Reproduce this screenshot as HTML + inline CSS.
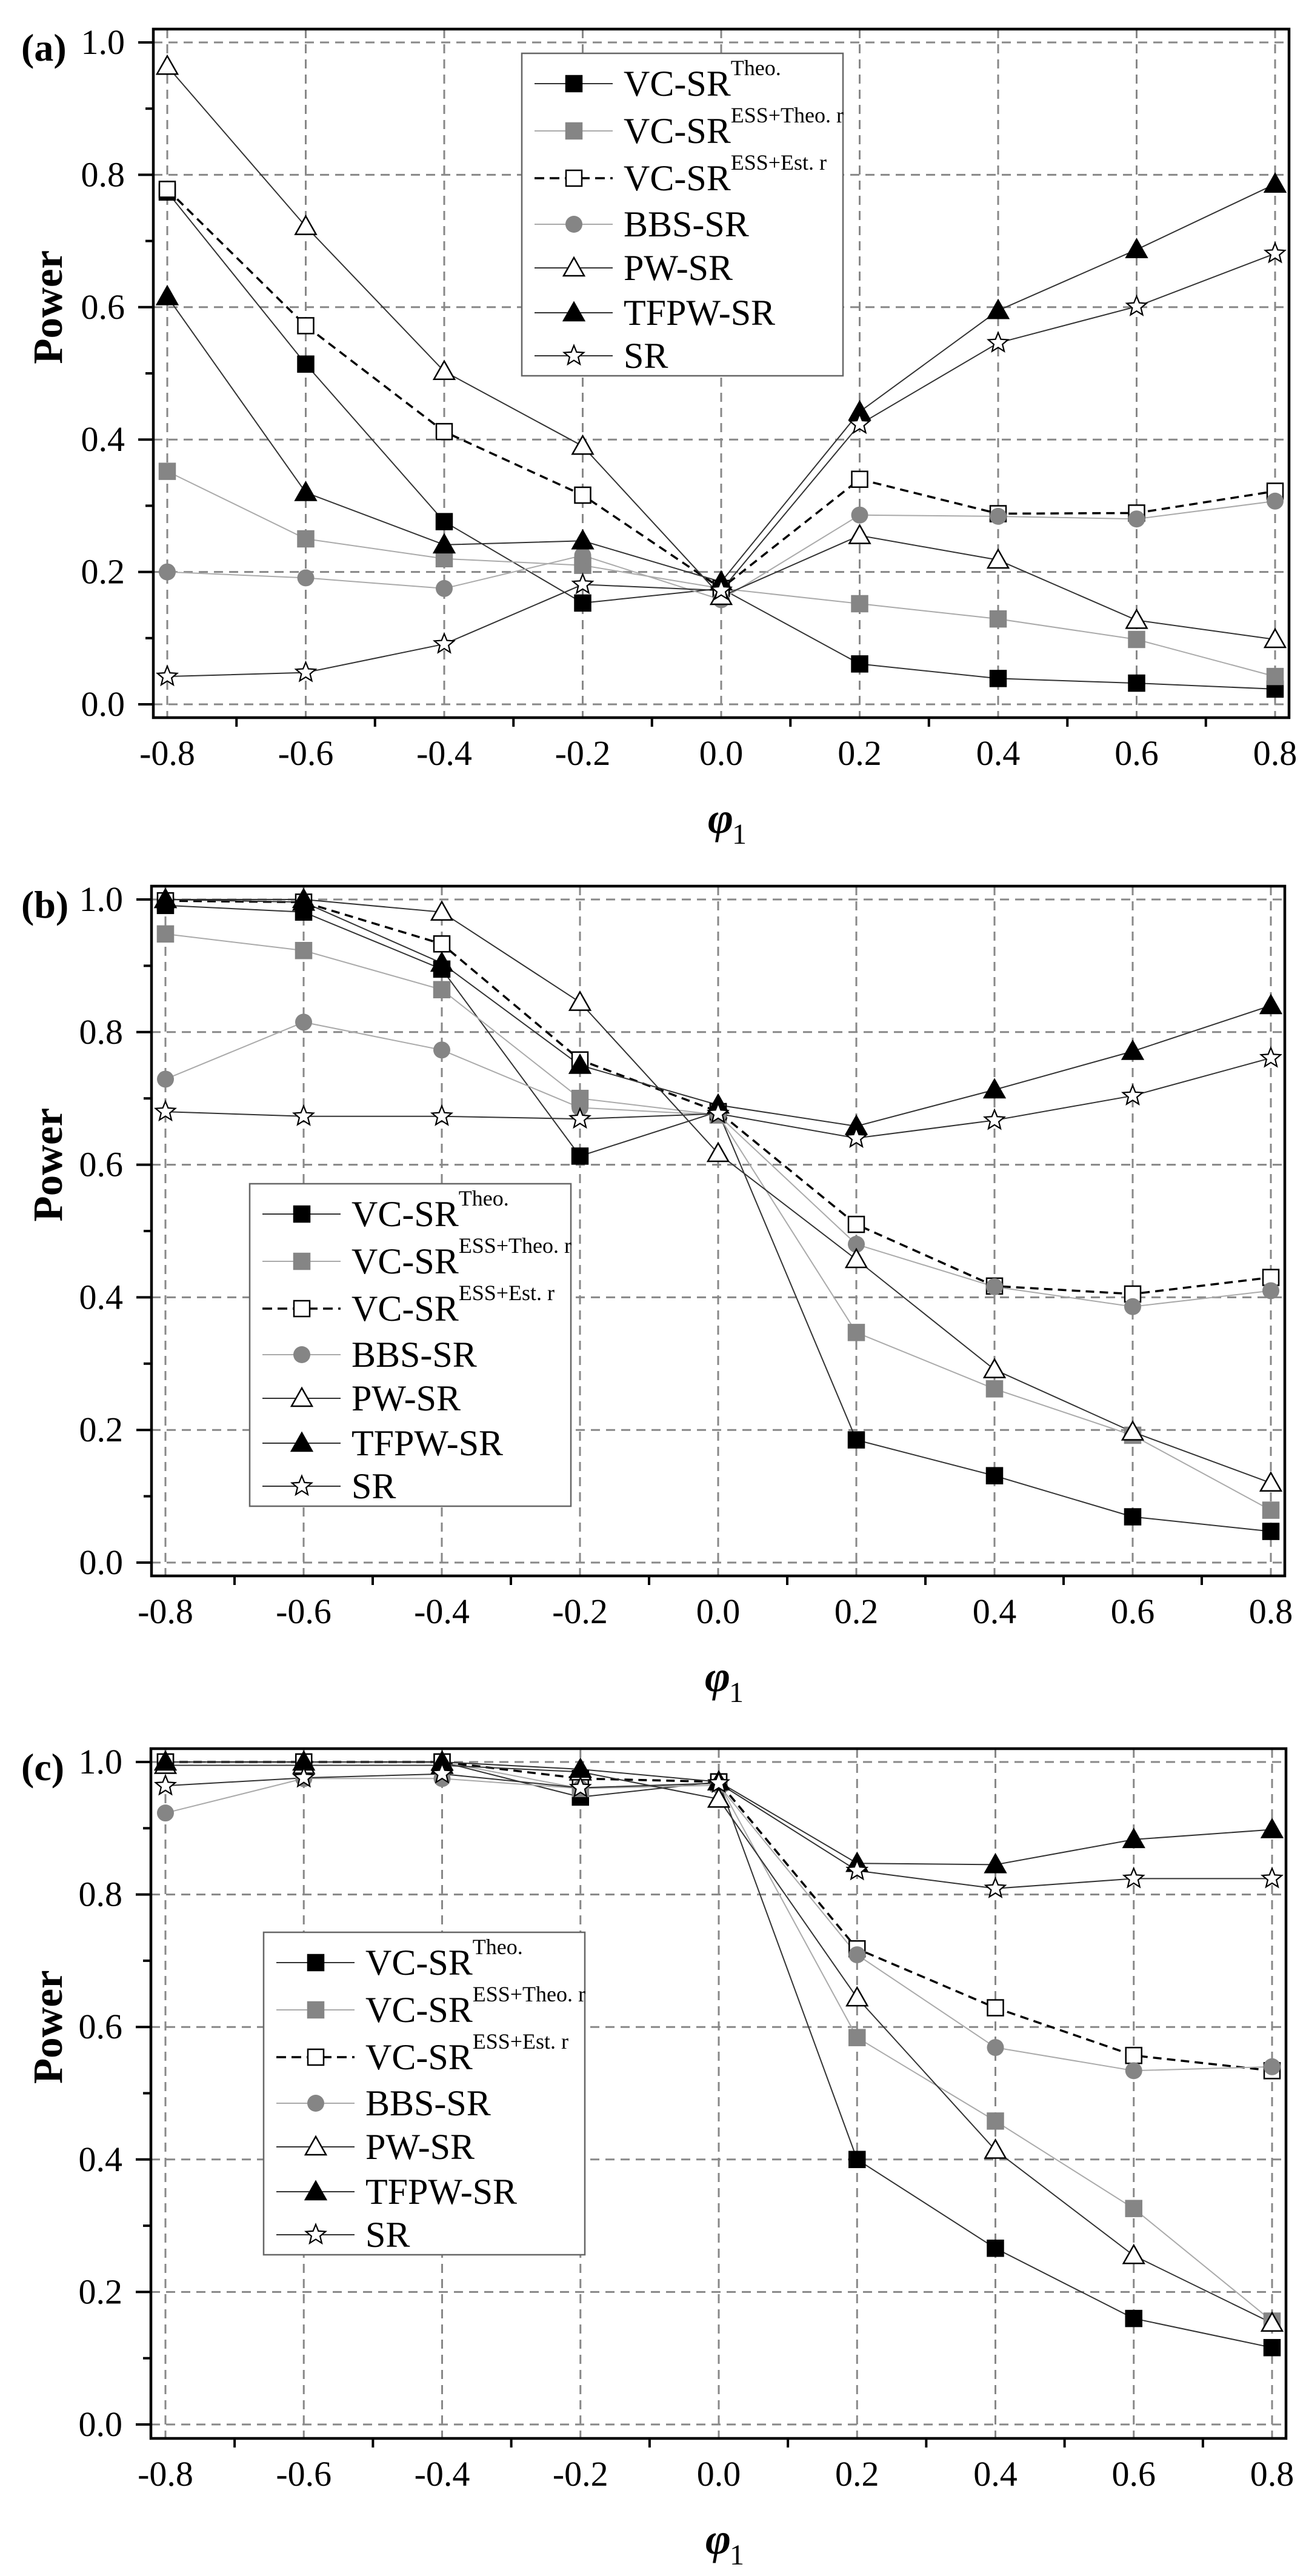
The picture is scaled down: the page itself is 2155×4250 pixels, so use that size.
<!DOCTYPE html>
<html><head><meta charset="utf-8"><style>
html,body{margin:0;padding:0;background:#fff}
svg{display:block}
svg text, svg tspan{font-family:"Liberation Serif","Times New Roman",Times,serif}
</style></head><body>
<svg id="fig" font-family="'Liberation Serif','Times New Roman',serif" width="2155" height="4250" viewBox="0 0 2155 4250" xmlns="http://www.w3.org/2000/svg"></svg>
<script>
const categories = [-0.8,-0.6,-0.4,-0.2,0.0,0.2,0.4,0.6,0.8];
const xTickLabels = ["-0.8","-0.6","-0.4","-0.2","0.0","0.2","0.4","0.6","0.8"];
const yTickLabels = ["0.0","0.2","0.4","0.6","0.8","1.0"];
const seriesNames = ["VC-SR Theo","VC-SR ESS+Theo r","VC-SR ESS+Est r","BBS-SR","PW-SR","TFPW-SR","SR"];

// Panel (a)
const aVcTheo   = [0.774,0.514,0.276,0.153,0.175,0.061,0.039,0.032,0.023];
const aVcEssTh  = [0.352,0.250,0.220,0.210,0.175,0.152,0.129,0.098,0.042];
const aVcEssEst = [0.778,0.572,0.412,0.316,0.175,0.340,0.288,0.289,0.322];
const aBbs      = [0.200,0.191,0.175,0.225,0.158,0.286,0.284,0.280,0.307];
const aPw       = [0.964,0.722,0.503,0.390,0.163,0.255,0.218,0.127,0.098];
const aTfpw     = [0.616,0.320,0.241,0.247,0.185,0.442,0.595,0.687,0.786];
const aSr       = [0.042,0.048,0.091,0.181,0.172,0.423,0.546,0.601,0.681];
// Panel (b)
const bVcTheo   = [0.991,0.981,0.895,0.613,0.680,0.185,0.131,0.069,0.047];
const bVcEssTh  = [0.948,0.923,0.864,0.700,0.675,0.347,0.262,0.192,0.079];
const bVcEssEst = [0.998,0.996,0.933,0.758,0.680,0.510,0.417,0.405,0.430];
const bBbs      = [0.729,0.815,0.773,0.686,0.675,0.480,0.416,0.386,0.410];
const bPw       = [1.000,1.000,0.981,0.845,0.617,0.457,0.291,0.197,0.120];
const bTfpw     = [1.000,0.996,0.904,0.750,0.690,0.658,0.713,0.771,0.840];
const bSr       = [0.680,0.673,0.673,0.669,0.677,0.640,0.667,0.704,0.761];
// Panel (c)
const cVcTheo   = [1.000,1.000,1.000,0.947,0.970,0.400,0.266,0.160,0.116];
const cVcEssTh  = [1.000,1.000,1.000,0.960,0.968,0.584,0.458,0.326,0.156];
const cVcEssEst = [1.000,1.000,1.000,0.975,0.970,0.718,0.629,0.557,0.534];
const cBbs      = [0.923,0.975,0.975,0.960,0.965,0.709,0.569,0.534,0.540];
const cPw       = [0.995,0.995,0.995,0.985,0.944,0.644,0.414,0.255,0.153];
const cTfpw     = [1.000,1.000,1.000,0.989,0.970,0.847,0.845,0.883,0.898];
const cSr       = [0.964,0.976,0.982,0.961,0.968,0.836,0.809,0.824,0.824];

const NS="http://www.w3.org/2000/svg";
const svg=document.getElementById('fig');
const FF="'Liberation Serif','Times New Roman',serif";
function mk(tag,attrs,parent){const e=document.createElementNS(NS,tag);for(const k in attrs)e.setAttribute(k,attrs[k]);if(tag==='text')e.setAttribute('font-family',FF);(parent||svg).appendChild(e);return e;}

const styles=[
 {line:"#333",w:2,dash:null,marker:"square",fill:"#000",stroke:"#000"},
 {line:"#aaa",w:2,dash:null,marker:"square",fill:"#858585",stroke:"#858585"},
 {line:"#000",w:3.5,dash:"14 9",marker:"square",fill:"#fff",stroke:"#000"},
 {line:"#aaa",w:2,dash:null,marker:"circle",fill:"#858585",stroke:"#858585"},
 {line:"#333",w:2,dash:null,marker:"tri",fill:"#fff",stroke:"#000"},
 {line:"#333",w:2,dash:null,marker:"tri",fill:"#000",stroke:"#000"},
 {line:"#333",w:2,dash:null,marker:"star",fill:"#fff",stroke:"#000"}
];

function drawMarker(g,type,x,y,st,name){
  let e;
  if(type==="square"){e=mk('rect',{x:x-13,y:y-13,width:26,height:26,fill:st.fill,stroke:st.stroke,'stroke-width':2.5},g);}
  else if(type==="circle"){e=mk('circle',{cx:x,cy:y,r:14,fill:st.fill},g);}
  else if(type==="tri"){e=mk('polygon',{points:`${x},${y-17} ${x+17},${y+13} ${x-17},${y+13}`,fill:st.fill,stroke:st.stroke,'stroke-width':2.5},g);}
  else {let p=[];for(let i=0;i<10;i++){const r=i%2?7.5:17;const a=-Math.PI/2+i*Math.PI/5;p.push((x+r*Math.cos(a)).toFixed(1)+","+(y+r*Math.sin(a)).toFixed(1));}
    e=mk('polygon',{points:p.join(' '),fill:st.fill,stroke:st.stroke,'stroke-width':2.2},g);}
  
  
}

function panel(id,label,data,P){
  const g=mk('g',{});
  
  
  const xs=v=>P.x0+(v-categories[0])/(categories[categories.length-1]-categories[0])*(P.x1-P.x0);
  const ys=v=>P.y0-(v)*(P.y0-P.y1);
  const grid=mk('g',{stroke:"#888",'stroke-width':3,'stroke-dasharray':"15 10",fill:"none"},g);
  
  
  categories.forEach(c=>mk('line',{x1:xs(c),x2:xs(c),y1:P.T,y2:P.B},grid));
  for(let i=0;i<yTickLabels.length;i++){const v=parseFloat(yTickLabels[i]);mk('line',{x1:P.L,x2:P.R,y1:ys(v),y2:ys(v)},grid);}
  data.forEach((arr,si)=>{
    const st=styles[si];
    const pts=arr.map((v,i)=>xs(categories[i]).toFixed(1)+","+ys(v).toFixed(1)).join(' ');
    const pl=mk('polyline',{points:pts,fill:'none',stroke:st.line,'stroke-width':st.w},g);
    if(st.dash)pl.setAttribute('stroke-dasharray',st.dash);
    
    
  });
  data.forEach((arr,si)=>{
    arr.forEach((v,i)=>drawMarker(g,styles[si].marker,xs(categories[i]),ys(v),styles[si],'point-'+si+'-'+i));
  });
  const fr=mk('rect',{x:P.L,y:P.T,width:P.R-P.L,height:P.B-P.T,fill:'none',stroke:'#000','stroke-width':4.5},g);
  
  
  for(let k=0;k<=10;k++){const v=k/10;const len=k%2?13:25;mk('line',{x1:P.L-len,x2:P.L,y1:ys(v),y2:ys(v),stroke:'#000','stroke-width':4},g);}
  yTickLabels.forEach(t=>{const e=mk('text',{x:P.L-47,y:ys(parseFloat(t))+19,'text-anchor':'end','font-size':58},g);e.textContent=t;
    
    });
  for(let i=0;i<categories.length-1;i++){const xm=(xs(categories[i])+xs(categories[i+1]))/2;mk('line',{x1:xm,x2:xm,y1:P.B,y2:P.B+15,stroke:'#000','stroke-width':4},g);}
  categories.forEach((c,i)=>{const e=mk('text',{x:xs(c),y:P.B+78,'text-anchor':'middle','font-size':58},g);e.textContent=xTickLabels[i];
    
    });
  const yt=mk('text',{x:0,y:0,'font-size':69,'font-weight':'bold','text-anchor':'middle',transform:`translate(102,${ys(0.6)}) rotate(-90)`},g);
  yt.textContent='Power';
  
  
  const xt=mk('text',{x:(xs(0))-22,y:P.B+190,'font-size':72,'font-weight':'bold','font-style':'italic'},g);
  xt.textContent='φ';
  
  
  const xs1=mk('text',{x:(xs(0))+18,y:P.B+208,'font-size':48},g);xs1.textContent='1';
  
  
  const pl=mk('text',{x:35,y:ys(1)+30,'font-size':64,'font-weight':'bold'},g);pl.textContent=label;
  
  
  const lg=mk('g',{},g);
  
  
  mk('rect',{x:P.lx,y:P.ly,width:530,height:532,fill:'#fff',stroke:'#666','stroke-width':2.5},lg);
  const offs=[50,128,206,282,354,428,499];
  const labels=[["VC-SR","Theo."],["VC-SR","ESS+Theo. r"],["VC-SR","ESS+Est. r"],["BBS-SR",""],["PW-SR",""],["TFPW-SR",""],["SR",""]];
  labels.forEach((lab,i)=>{
    const y=P.ly+offs[i];const st=styles[i];
    const ln=mk('line',{x1:P.lx+21,x2:P.lx+150,y1:y,y2:y,stroke:st.line,'stroke-width':st.w},lg);
    if(st.dash)ln.setAttribute('stroke-dasharray',"16 9");
    drawMarker(lg,st.marker,P.lx+86,y,st,'legend-marker');
    const t=mk('text',{x:P.lx+168,y:y+20,'font-size':60},lg);
    
    
    t.textContent=lab[0];
    if(lab[1]){const s=mk('tspan',{'font-size':36,dy:-34},t);s.textContent=lab[1];}
  });
}

panel('a','(a)',[aVcTheo,aVcEssTh,aVcEssEst,aBbs,aPw,aTfpw,aSr],
  {x0:276,x1:2104,y1:70,y0:1162,L:253,R:2127,T:48,B:1184,lx:861,ly:88});
panel('b','(b)',[bVcTheo,bVcEssTh,bVcEssEst,bBbs,bPw,bTfpw,bSr],
  {x0:273,x1:2097,y1:1484,y0:2578,L:250,R:2120,T:1462,B:2600,lx:412,ly:1953});
panel('c','(c)',[cVcTheo,cVcEssTh,cVcEssEst,cBbs,cPw,cTfpw,cSr],
  {x0:273,x1:2099,y1:2907,y0:4000,L:249,R:2122,T:2885,B:4023,lx:435,ly:3188});
</script>
</body></html>
